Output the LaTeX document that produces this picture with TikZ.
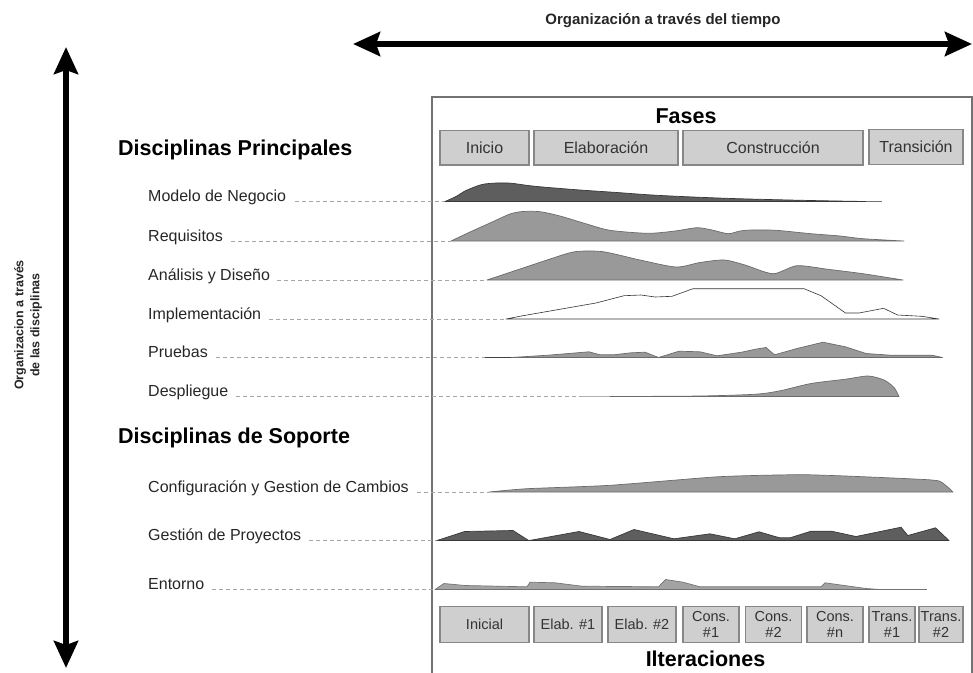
\documentclass[tikz,border=0pt]{standalone}
\usepackage{fontspec}
\setmainfont{Liberation Sans}
\usetikzlibrary{arrows.meta}
\begin{document}
\begin{tikzpicture}[x=1pt,y=-1pt,
  bigarrow/.style={line width=6pt,
    {Stealth[length=27pt,width=24pt,inset=4pt]}-{Stealth[length=27pt,width=24pt,inset=4pt]}},
  axistitle/.style={anchor=base, inner sep=0, font=\bfseries\fontsize{15}{17}\selectfont, text=black!85},
  sidetitle/.style={inner sep=0, align=center, font=\bfseries\fontsize{12.5}{16}\selectfont, text=black!85},
  frame/.style={draw=black!55, line width=1.4pt},
  boldtitle/.style={anchor=base, inner sep=0, font=\bfseries\fontsize{21.5}{24}\selectfont},
  heading/.style={anchor=base west, inner sep=0, font=\bfseries\fontsize{21.5}{24}\selectfont},
  lbl/.style={anchor=base west, inner sep=0, font=\fontsize{16}{18}\selectfont, text=black!85},
  leader/.style={draw=black!35, dash pattern=on 4pt off 3pt, line width=0.9pt},
  phasebox/.style={draw=black!47, fill=black!19, line width=1.1pt, inner sep=0,
    minimum height=34.5pt, font=\fontsize{16}{18}\selectfont, text=black!80},
  iterbox/.style={phasebox, minimum height=35.5pt, align=center,
    font=\fontsize{14.5}{16.5}\selectfont},
  darkhump/.style={fill=black!63, draw=black!78, line width=0.7pt, line join=round},
  midhump/.style={fill=black!40, draw=black!58, line width=0.7pt, line join=round},
  lighthump/.style={fill=black!36, draw=black!55, line width=0.7pt, line join=round},
  openhump/.style={fill=white, draw=black!80, line width=0.6pt, line join=round},
  tail/.style={draw=black!55, line width=0.7pt}
]
\useasboundingbox (0,0) rectangle (973,672);
\clip (0,0) rectangle (973,672);

% ---- axes ----
\coordinate (tleft) at (353,44);
\coordinate (tright) at (972,44);
\draw[bigarrow] (tleft) -- (tright);
\node[axistitle] (ttitle) at (663,24) {Organización a través del tiempo};

\coordinate (vtop) at (66,47);
\coordinate (vbot) at (66,668);
\draw[bigarrow] (vtop) -- (vbot);
\node[sidetitle, rotate=90] (vtitle) at (28,325) {Organizacion a través\\de las disciplinas};

% ---- chart frame ----
\draw[frame] (432,690) -- (432,97) -- (972,97) -- (972,690);

% ---- phases ----
\node[boldtitle] (fases) at (686,123.5) {Fases};
\node[phasebox, minimum width=89pt]  (ph1) at (484.5,147.75) {Inicio};
\node[phasebox, minimum width=144pt] (ph2) at (606,147.75) {Elaboración};
\node[phasebox, minimum width=180pt] (ph3) at (773,147.75) {Construcción};
\node[phasebox, minimum width=94pt]  (ph4) at (916,147) {Transición};

% ---- iterations ----
\node[iterbox, minimum width=89pt] (it1) at (484.5,624.5) {Inicial};
\node[iterbox, minimum width=68pt] (it2) at (568,624.5) {Elab. \#1};
\node[iterbox, minimum width=68pt] (it3) at (642,624.5) {Elab. \#2};
\node[iterbox, minimum width=56pt] (it4) at (711,624.5) {Cons.\\\#1};
\node[iterbox, minimum width=56pt] (it5) at (773.5,624.5) {Cons.\\\#2};
\node[iterbox, minimum width=56pt] (it6) at (835,624.5) {Cons.\\\#n};
\node[iterbox, minimum width=46pt] (it7) at (892,624.5) {Trans.\\\#1};
\node[iterbox, minimum width=44pt] (it8) at (941,624.5) {Trans.\\\#2};
\node[boldtitle] (iters) at (705.5,666.5) {Ilteraciones};

% ---- main disciplines ----
\node[heading] (hmain) at (118,155) {Disciplinas Principales};

% Modelo de Negocio
\node[lbl] (r1) at (148,201.5) {Modelo de Negocio};
\coordinate (r1s) at (445,201.5);
\draw[leader] ([xshift=9pt]r1.base east) -- (r1s);
\begin{scope}[shift={(0,201.5)}]
  \filldraw[darkhump] plot[smooth,tension=.5] coordinates {(445,0) (456,-5) (466,-11) (482,-17)
    (497,-18.5) (511,-18.3) (528,-16) (545,-14.3) (580,-11.5) (617,-9) (652,-6.5) (693,-4.5)
    (742,-2.7) (811,-1) (866,0)} -- cycle;
  \draw[tail] (866,0) -- (882,0);
\end{scope}

% Requisitos
\node[lbl] (r2) at (148,241) {Requisitos};
\coordinate (r2s) at (451,241);
\draw[leader] ([xshift=8pt]r2.base east) -- (r2s);
\begin{scope}[shift={(0,241)}]
  \filldraw[midhump] plot[smooth,tension=.45] coordinates {(451,0) (470,-9) (490,-18) (510,-27)
    (523,-29.5) (540,-29.3) (560,-25) (585,-17.5) (610,-10.7) (648,-7.7) (675,-10) (697,-13.3)
    (712,-11) (728,-7.3) (740,-10) (752,-11) (776,-10.7) (811,-7.3) (840,-5) (863,-2.3)
    (904,0)} -- cycle;
\end{scope}

% Analisis y Diseno
\node[lbl] (r3) at (148,280) {Análisis y Diseño};
\coordinate (r3s) at (487,280);
\draw[leader] ([xshift=7pt]r3.base east) -- (r3s);
\begin{scope}[shift={(0,280)}]
  \filldraw[midhump] plot[smooth,tension=.45] coordinates {(487,0) (520,-11) (550,-21)
    (575,-28.3) (603,-28.3) (640,-20) (676,-13) (700,-17.5) (724,-20) (745,-15) (773,-6.3)
    (797,-14.3) (828,-10.7) (863,-6.3) (903,0)} -- cycle;
\end{scope}

% Implementacion
\node[lbl] (r4) at (148,319) {Implementación};
\coordinate (r4s) at (506,319);
\draw[leader] ([xshift=8pt]r4.base east) -- (r4s);
\begin{scope}[shift={(0,319)}]
  \filldraw[openhump] (506,0) -- (523,-3.3) -- (596,-16) -- (624,-23.3) -- (641,-24)
    -- (655,-22) -- (672,-22.7) -- (693,-30.3) -- (804,-30.3) -- (821,-23.3) -- (845.5,-6)
    -- (859,-6) -- (883.6,-10.7) -- (897.5,-4) -- (921.7,-2.7) -- (939,0) -- cycle;
\end{scope}

% Pruebas
\node[lbl] (r5) at (148,357.5) {Pruebas};
\coordinate (r5s) at (485,357.5);
\draw[leader] ([xshift=8pt]r5.base east) -- (r5s);
\begin{scope}[shift={(0,357.5)}]
  \draw[tail, draw=black!75] (485,0) -- (511,0);
  \filldraw[midhump] (511,0) -- (548,-2.3) -- (589,-5.7) -- (600,-2.7) -- (613.5,-2.7)
    -- (631,-4.7) -- (645,-5.3) -- (658.5,0) -- (679,-6.3) -- (700,-5.7) -- (717,-1.7)
    -- (741.6,-5.3) -- (755.5,-8.3) -- (766,-10) -- (774.5,-2.7) -- (797,-9) -- (823,-15.3)
    -- (845.5,-10.7) -- (866,-4) -- (890.5,-2.3) -- (932,-2.3) -- (942.5,0) -- cycle;
\end{scope}

% Despliegue
\node[lbl] (r6) at (148,396.5) {Despliegue};
\coordinate (r6s) at (582,396.5);
\draw[leader] ([xshift=8pt]r6.base east) -- (r6s);
\begin{scope}[shift={(0,396.5)}]
  \draw[tail, draw=black!30] (582,0) -- (610,0);
  \filldraw[midhump] plot[smooth,tension=.45] coordinates {(610,0) (700,-0.5) (755.5,-2.3)
    (780,-5.7) (811,-13) (845.5,-17.3) (868,-20.5) (884,-16.5) (894,-9) (899,0)} -- cycle;
\end{scope}

% ---- supporting disciplines ----
\node[heading] (hsupp) at (118,443) {Disciplinas de Soporte};

% Configuracion y Gestion de Cambios
\node[lbl] (s1) at (148,492) {Configuración y Gestion de Cambios};
\coordinate (s1s) at (489,492);
\draw[leader] ([xshift=8pt]s1.base east) -- (s1s);
\begin{scope}[shift={(0,492)}]
  \filldraw[midhump] plot[smooth,tension=.35] coordinates {(489,0) (527,-3.3) (610,-6.7)
    (714,-15) (762,-16.7) (804,-17.3) (845.5,-16) (908,-13.3) (939,-11) (953,0)} -- cycle;
\end{scope}

% Gestion de Proyectos
\node[lbl] (s2) at (148,540.5) {Gestión de Proyectos};
\coordinate (s2s) at (437,540.5);
\draw[leader] ([xshift=8pt]s2.base east) -- (s2s);
\begin{scope}[shift={(0,540.5)}]
  \filldraw[darkhump] (437,0) -- (464.6,-9) -- (513,-10) -- (528.7,0) -- (532,-0.5)
    -- (579,-9) -- (610,-1) -- (634,-11) -- (674,-1.7) -- (710,-6.7) -- (734.7,-1.7)
    -- (759,-8.7) -- (779.7,-2.7) -- (790,-2.7) -- (811,-9.3) -- (831.7,-9.3) -- (856,-4)
    -- (901,-13.3) -- (907.8,-5) -- (935.5,-12.7) -- (949,0) -- cycle;
\end{scope}

% Entorno
\node[lbl] (s3) at (148,589.5) {Entorno};
\coordinate (s3s) at (435,589.5);
\draw[leader] ([xshift=8pt]s3.base east) -- (s3s);
\begin{scope}[shift={(0,589.5)}]
  \filldraw[lighthump] (435,0) -- (444,-6) -- (465,-4) -- (527,-2.7) -- (530,-7.3)
    -- (555,-6.7) -- (582,-3.3) -- (658.5,-2.7) -- (665.5,-10) -- (683,-7.3) -- (700,-2.7)
    -- (821,-2.7) -- (825,-6.7) -- (866,-1) -- (880,0) -- cycle;
  \draw[tail] (880,0) -- (927,0);
\end{scope}

\end{tikzpicture}
\end{document}
